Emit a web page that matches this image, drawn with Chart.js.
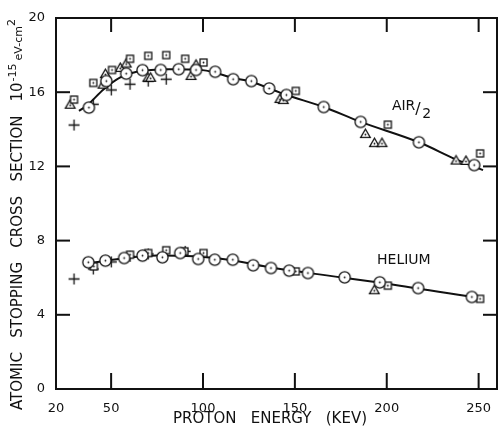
<!DOCTYPE html>
<html>
<head>
<meta charset="utf-8">
<script src="https://cdn.jsdelivr.net/npm/chart.js@4.4.0/dist/chart.umd.min.js"></script>
<style>
body { margin: 0; background: #fff; }
</style>
</head>
<body>
<canvas id="myChart" width="503" height="426"></canvas>
<script>
// values: [proton energy keV, cross section 1e-15 eV cm2]
var xTicks = [20, 50, 100, 150, 200, 250];
var yTicks = [0, 4, 8, 12, 16, 20];

var airCircles = [[37.9, 15.17], [47.4, 16.6], [58.2, 17.0], [67.1, 17.19], [77, 17.2], [86.8, 17.24], [96.2, 17.2], [106.6, 17.1], [116.4, 16.7], [126.3, 16.6], [136, 16.2], [145.4, 15.85], [165.7, 15.2], [185.8, 14.4], [217.5, 13.3], [247.6, 12.07]];
var airSquares = [[29.8, 15.6], [40.3, 16.5], [50.5, 17.2], [60.3, 17.8], [70.2, 17.96], [80, 18.0], [90.3, 17.8], [100.3, 17.6], [150.5, 16.07], [200.6, 14.25], [250.8, 12.7]];
var airTriangles = [[27.7, 15.35], [45.6, 16.43], [46.9, 17.0], [55, 17.33], [58.2, 17.57], [70.1, 16.8], [71.5, 16.8], [93.5, 16.9], [96.2, 17.5], [141.9, 15.66], [143.7, 15.6], [188.4, 13.77], [193.3, 13.28], [197.4, 13.28], [237.7, 12.34], [243.1, 12.32]];
var airCrosses = [[29.8, 14.23], [40.3, 15.35], [50.1, 16.12], [60.3, 16.43], [70.2, 16.6], [80, 16.7]];
var airCurve = [[32.5, 14.99], [37, 15.3], [46, 16.16], [55, 16.8], [63.9, 17.1], [81.8, 17.24], [99.7, 17.19], [117.7, 16.74], [124.8, 16.6], [145.4, 15.85], [165.7, 15.2], [185.8, 14.4], [217.5, 13.3], [237.7, 12.38], [252.4, 11.8]];

var heCircles = [[37.6, 6.83], [46.9, 6.92], [57.1, 7.06], [67.1, 7.19], [77.9, 7.1], [87.6, 7.33], [97.4, 7.01], [106.4, 6.97], [116.2, 6.97], [127.3, 6.67], [137, 6.52], [146.9, 6.38], [157.1, 6.25], [177.1, 6.02], [196.2, 5.75], [217.1, 5.44], [246.3, 4.96]];
var heSquares = [[40.6, 6.61], [60.3, 7.24], [70.2, 7.33], [80, 7.48], [89.9, 7.42], [100.3, 7.33], [150.5, 6.34], [200.6, 5.57], [250.8, 4.86]];
var heTriangles = [[193.2, 5.35]];
var heCrosses = [[29.8, 5.93], [40.3, 6.47], [50.1, 6.85], [60.3, 7.15], [70.2, 7.28], [90.3, 7.42]];
var heCurve = [[39.4, 6.8], [55, 7.02], [75, 7.2], [95, 7.15], [115, 6.95], [135, 6.58], [160, 6.22], [200, 5.68], [250.5, 4.9]];

var FONT = "'DejaVu Sans', sans-serif";

function marker(kind) {
	var c = document.createElement("canvas");
	c.width = 15;
	c.height = 15;
	var g = c.getContext("2d");
	g.strokeStyle = "#111";
	g.fillStyle = "#fff";
	g.lineWidth = 1.3;
	if (kind == "cross") {
		g.beginPath();
		g.moveTo(7.5, 2); g.lineTo(7.5, 13);
		g.moveTo(2, 7.5); g.lineTo(13, 7.5);
		g.stroke();
		return c;
	}
	var dy = 7.5;
	if (kind == "circle") {
		g.beginPath();
		g.arc(7.5, 7.5, 5.6, 0, 2 * Math.PI);
		g.fill(); g.stroke();
	} else if (kind == "square") {
		g.fillRect(4, 4, 7, 7);
		g.strokeRect(4, 4, 7, 7);
	} else {
		g.beginPath();
		g.moveTo(7.5, 3); g.lineTo(12.3, 11.3); g.lineTo(2.7, 11.3);
		g.closePath();
		g.fill(); g.stroke();
		dy = 8.5;
	}
	g.fillStyle = "#111";
	g.beginPath();
	g.arc(7.5, dy, 0.9, 0, 2 * Math.PI);
	g.fill();
	return c;
}

function pts(arr) {
	return arr.map(function (p) { return { x: p[0], y: p[1] }; });
}

function marks(arr, kind) {
	return { data: pts(arr), pointStyle: marker(kind), pointRadius: 5, showLine: false, order: 0 };
}

function curve(arr) {
	return { data: pts(arr), showLine: true, pointRadius: 0, borderColor: "#111", borderWidth: 2, cubicInterpolationMode: "monotone", order: 1 };
}

var decor = {
	id: "decor",
	afterDraw: function (chart) {
		var c = chart.ctx, a = chart.chartArea;
		var xs = chart.scales.x, ys = chart.scales.y;
		c.save();

		// frame with inward tick marks on all four sides
		c.fillStyle = "#111";
		c.fillRect(a.left - 1, a.top - 1, a.right - a.left + 2, 2);
		c.fillRect(a.left - 1, a.bottom - 1, a.right - a.left + 2, 2);
		c.fillRect(a.left - 1, a.top - 1, 2, a.bottom - a.top + 2);
		c.fillRect(a.right - 1, a.top - 1, 2, a.bottom - a.top + 2);
		for (var i = 0; i < xs.ticks.length; i++) {
			var px = xs.getPixelForTick(i);
			if (px - a.left < 3) continue;
			c.fillRect(px - 1, a.bottom - 16, 2, 16);
			c.fillRect(px - 1, a.top, 2, 14);
		}
		for (var j = 0; j < ys.ticks.length; j++) {
			var py = ys.getPixelForTick(j);
			if (a.bottom - py < 3 || py - a.top < 3) continue;
			c.fillRect(a.left, py - 1, 14, 2);
			c.fillRect(a.right - 14, py - 1, 14, 2);
		}

		c.textBaseline = "alphabetic";

		// x axis title
		c.font = "15px " + FONT;
		c.textAlign = "center";
		c.fillText("PROTON   ENERGY   (KEV)", 270, 423);
		c.textAlign = "left";

		// y axis title, rotated
		c.translate(22, 410);
		c.rotate(-Math.PI / 2);
		c.font = "15px " + FONT;
		var t = "ATOMIC   STOPPING   CROSS   SECTION";
		c.fillText(t, 0, 0);
		var w = c.measureText(t).width + 14;
		c.fillText("10", w, 0);
		w += c.measureText("10").width + 1;
		c.font = "11px " + FONT;
		c.fillText("-15", w, -6);
		w += c.measureText("-15").width + 3;
		c.fillText("eV-cm", w, 0);
		w += c.measureText("eV-cm").width;
		c.fillText("2", w, -7);
		c.setTransform(1, 0, 0, 1, 0, 0);

		// curve labels
		c.font = "14px " + FONT;
		var ax = xs.getPixelForValue(202.8), ay = ys.getPixelForValue(15.03);
		c.fillText("AIR", ax, ay);
		var aw = c.measureText("AIR").width;
		c.font = "16px " + FONT;
		c.fillText("/", ax + aw, ay + 4);
		c.font = "14px " + FONT;
		c.fillText("2", ax + aw + 7, ay + 8);
		c.fillText("HELIUM", xs.getPixelForValue(194.7), ys.getPixelForValue(6.76));
		c.restore();
	},
};

var ctx = document.getElementById("myChart").getContext("2d");
var myChart = new Chart(ctx, {
	type: "scatter",
	data: {
		datasets: [
			marks(airCircles, "circle"),
			marks(airSquares, "square"),
			marks(airTriangles, "triangle"),
			marks(airCrosses, "cross"),
			marks(heCircles, "circle"),
			marks(heSquares, "square"),
			marks(heTriangles, "triangle"),
			marks(heCrosses, "cross"),
			curve(airCurve),
			curve(heCurve),
		],
	},
	options: {
		responsive: false,
		animation: false,
		layout: { padding: { top: 18, right: 2, left: 0, bottom: 0 } },
		plugins: { legend: { display: false }, tooltip: { enabled: false } },
		scales: {
			x: {
				type: "linear",
				min: 20,
				max: 260,
				grid: { display: false },
				border: { display: false },
				ticks: { color: "#111", font: { family: FONT, size: 13 }, padding: 4, maxRotation: 0 },
				afterBuildTicks: function (s) { s.ticks = xTicks.map(function (v) { return { value: v }; }); },
				afterFit: function (s) { s.height = 37; },
			},
			y: {
				min: 0,
				max: 20,
				grid: { display: false },
				border: { display: false },
				ticks: { color: "#111", font: { family: FONT, size: 13 }, padding: 3 },
				afterBuildTicks: function (s) { s.ticks = yTicks.map(function (v) { return { value: v }; }); },
				afterFit: function (s) { s.width = 56; },
			},
		},
	},
	plugins: [decor],
});
</script>
</body>
</html>
